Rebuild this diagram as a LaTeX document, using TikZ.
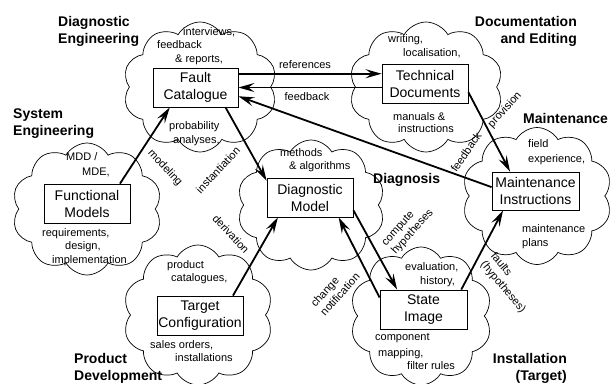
\documentclass[tikz,border=0pt]{standalone}
\usepackage{fontspec}
\setmainfont{Liberation Sans}
\usetikzlibrary{shapes.symbols,arrows.meta,calc}
\begin{document}
\begin{tikzpicture}[x=1pt,y=-1pt,
 cloudshape/.style={cloud, draw, line width=0.7pt, fill=white, cloud puffs=10, cloud puff arc=120, cloud ignores aspect, inner sep=0pt},
 box/.style={draw, line width=0.8pt, fill=white, minimum width=86pt, minimum height=39pt, inner sep=0pt, align=center, font=\fontsize{14}{17}\selectfont},
 small/.style={inner sep=0pt, anchor=base west, font=\fontsize{11}{14}\selectfont},
 ttl/.style={inner sep=0pt, anchor=base west, align=left, font=\fontsize{14}{17}\bfseries\selectfont},
 ttlr/.style={ttl, anchor=base east, align=right},
 arr/.style={line width=1.8pt, -{Stealth[length=16pt,width=9pt,inset=6pt]}},
 lbl/.style={inner sep=0pt, font=\fontsize{11}{13}\selectfont, align=left}
]
\useasboundingbox (0,0) rectangle (610,383);

% clouds
\node[cloudshape, minimum width=154pt, minimum height=130pt] (cfc) at (200,87) {};
\node[cloudshape, minimum width=154pt, minimum height=130pt] (ctd) at (426,87) {};
\node[cloudshape, minimum width=150pt, minimum height=132pt] (cfm) at (87,209) {};
\node[cloudshape, minimum width=148pt, minimum height=130pt] (cdm) at (311,205) {};
\node[cloudshape, minimum width=150pt, minimum height=137pt] (cmi) at (537,196) {};
\node[cloudshape, minimum width=150pt, minimum height=140pt] (ctc) at (198,315) {};
\node[cloudshape, minimum width=142pt, minimum height=138pt] (csi) at (421,316) {};

% boxes
\node[box, minimum width=85pt] (fc) at (195.5,87.5) {Fault\\Catalogue};
\node[box] (td) at (425,83.5) {Technical\\Documents};
\node[box] (dm) at (310,197.5) {Diagnostic\\Model};
\node[box, minimum width=87pt, minimum height=38pt] (mi) at (535.5,191) {Maintenance\\Instructions};
\node[box] (fm) at (87,203.5) {Functional\\Models};
\node[box] (tc) at (200,315.5) {Target\\Configuration};
\node[box, minimum width=87pt] (si) at (423.5,309.5) {State\\Image};

% cloud texts
\node[small] (t1) at (183,35.5) {interviews,};
\node[small] (t2) at (157,48.5) {feedback};
\node[small] (t3) at (175,62.5) {\& reports,};
\node[small] (t4) at (169,129.5) {probability};
\node[small] (t5) at (173,143.5) {analyses,};
\node[small] (t6) at (388,42.5) {writing,};
\node[small] (t7) at (403,56.5) {localisation,};
\node[small] (t8) at (393,120.5) {manuals \&};
\node[small] (t9) at (398,132.5) {instructions};
\node[small] (t10) at (66,160.5) {MDD /};
\node[small] (t11) at (82,175.5) {MDE,};
\node[small] (t12) at (42,236.5) {requirements,};
\node[small] (t13) at (65,249.5) {design,};
\node[small] (t14) at (52,263.5) {implementation};
\node[small] (t15) at (280,156.5) {methods};
\node[small] (t16) at (289,169.5) {\& algorithms};
\node[small] (t17) at (528,147.5) {field};
\node[small] (t18) at (528,162.5) {experience,};
\node[small] (t19) at (522,232.5) {maintenance};
\node[small] (t20) at (522,246.5) {plans};
\node[small] (t21) at (167,268.5) {product};
\node[small] (t22) at (171,281.5) {catalogues,};
\node[small] (t23) at (150,348.5) {sales orders,};
\node[small] (t24) at (175,361.5) {installations};
\node[small] (t25) at (405,270.5) {evaluation,};
\node[small] (t26) at (420,284.5) {history,};
\node[small] (t27) at (375,340.5) {component};
\node[small] (t28) at (378,356.5) {mapping,};
\node[small] (t29) at (407,369.5) {filter rules};

% titles (base anchor = baseline of the last line)
\node[ttl] (h1) at (58,43.3) {Diagnostic\\Engineering};
\node[ttl] (h2) at (13,135.5) {System\\Engineering};
\node[ttlr] (h3) at (577,43) {Documentation\\and Editing};
\node[ttl] (h4) at (523,123) {Maintenance};
\node[ttl] (h5) at (373,183.5) {Diagnosis};
\node[ttl] (h6) at (74,380.5) {Product\\Development};
\node[ttlr] (h7) at (567,380.5) {Installation\\(Target)};

% arrows
\draw[arr] ($(fc.north east)!0.154!(fc.south east)$) coordinate (r1) -- (td.west |- r1)
  node[lbl, midway, above=4pt, xshift=-5pt] (lref) {references};
\draw[arr] (td.west |- fc.east) -- (fc.east)
  node[lbl, midway, below=4pt, xshift=-3pt] (lfb) {feedback};
\draw[arr] ($(mi.north west)!0.4!(mi.south west)$) -- ($(fc.north east)!0.72!(fc.south east)$);
\draw[arr] ($(td.north east)!0.72!(td.south east)$) -- ($(mi.north west)!0.21!(mi.north east)$);
\draw[arr] ($(fc.south west)!0.85!(fc.south east)$) -- ($(dm.north west)!0.08!(dm.south west)$);
\draw[arr] ($(fm.north west)!0.88!(fm.north east)$) -- ($(fc.south west)!0.2!(fc.south east)$);
\draw[arr] ($(tc.north west)!0.88!(tc.north east)$) -- ($(dm.south west)!0.13!(dm.south east)$);
\draw[arr] ($(dm.north east)!0.82!(dm.south east)$) -- ($(si.north west)!0.2!(si.north east)$);
\draw[arr] ($(si.north west)!0.2!(si.south west)$) -- ($(dm.south west)!0.83!(dm.south east)$);
\draw[arr] ($(si.north west)!0.93!(si.north east)$) -- ($(mi.south west)!0.13!(mi.south east)$);

% rotated labels
\node[lbl, rotate=48] (lprov) at (505,110) {provision};
\node[lbl, rotate=55] (lfb2) at (466,152) {feedback};
\node[lbl, rotate=47] (linst) at (218,170) {instantiation};
\node[lbl, rotate=-47] (lmod) at (165,168) {modeling};
\node[lbl, rotate=-47] (lder) at (231,234) {derivation};
\node[lbl, rotate=48] (lcomp) at (408,228) {compute\\hypotheses};
\node[lbl, rotate=48] (lchg) at (335,290) {change\\notification};
\node[lbl, rotate=-50] (lflt) at (508,283) {faults\\(hypotheses)};
\end{tikzpicture}
\end{document}
